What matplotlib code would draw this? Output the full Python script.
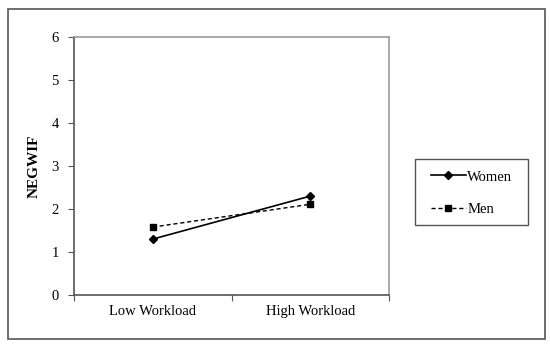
import matplotlib.pyplot as plt
from matplotlib.patches import Rectangle

plt.rcParams['font.family'] = ['Liberation Serif', 'DejaVu Serif']

# Data
categories = ["Low Workload", "High Workload"]
women = [1.30, 2.30]
men = [1.58, 2.11]
y_ticks = [0, 1, 2, 3, 4, 5, 6]

W, H = 550, 346
fig = plt.figure(figsize=(W / 100, H / 100), dpi=100)

def box(x0, y0, x1, y1, **kw):
    # rectangle given in pixel coords from the top-left corner
    fig.patches.append(Rectangle((x0 / W, 1 - y1 / H), (x1 - x0) / W, (y1 - y0) / H,
                                 transform=fig.transFigure, fill=False, **kw))

# outer frame and legend frame
box(8, 9, 545, 339, edgecolor='#555555', linewidth=1.2)
box(415, 159, 528, 225, edgecolor='#555555', linewidth=1.0)

ax = fig.add_axes([74 / W, 1 - 295 / H, (389 - 74) / W, (295 - 37) / H])

x = [0.5, 1.5]
ax.plot(x, women, color='black', linestyle='-', linewidth=1.2,
        marker='D', markersize=4, label='Women')
ax.plot(x, men, color='black', linestyle=(0, (3, 2)), linewidth=1.0,
        marker='s', markersize=5, label='Men')

ax.set_xlim(0, 2)
ax.set_ylim(0, 6)
ax.set_yticks(y_ticks)
ax.set_yticklabels([str(t) for t in y_ticks], fontsize=10.5)
ax.set_xticks([0, 1, 2])
ax.set_xticklabels([])
ax.set_xticks(x, minor=True)
ax.set_xticklabels(categories, minor=True, fontsize=10.5)
ax.tick_params(axis='x', which='minor', length=0, pad=7)
ax.tick_params(axis='x', which='major', length=4, direction='out', color='#555555')
ax.tick_params(axis='y', length=4, direction='out', color='#555555', pad=7)

for side in ['left', 'bottom']:
    ax.spines[side].set_color('#555555')
    ax.spines[side].set_linewidth(1.2)
for side in ['top', 'right']:
    ax.spines[side].set_color('#999999')
    ax.spines[side].set_linewidth(1.2)

ax.set_ylabel('NEGWIF', fontsize=11, fontweight='bold', labelpad=8)

leg = fig.legend(loc='center', bbox_to_anchor=(471.5 / W, 1 - 193 / H),
                 fontsize=10.5, frameon=False,
                 handlelength=2.4, labelspacing=1.3, borderpad=0,
                 handletextpad=0.1, borderaxespad=0)

fig.savefig('out.png', dpi=100)
